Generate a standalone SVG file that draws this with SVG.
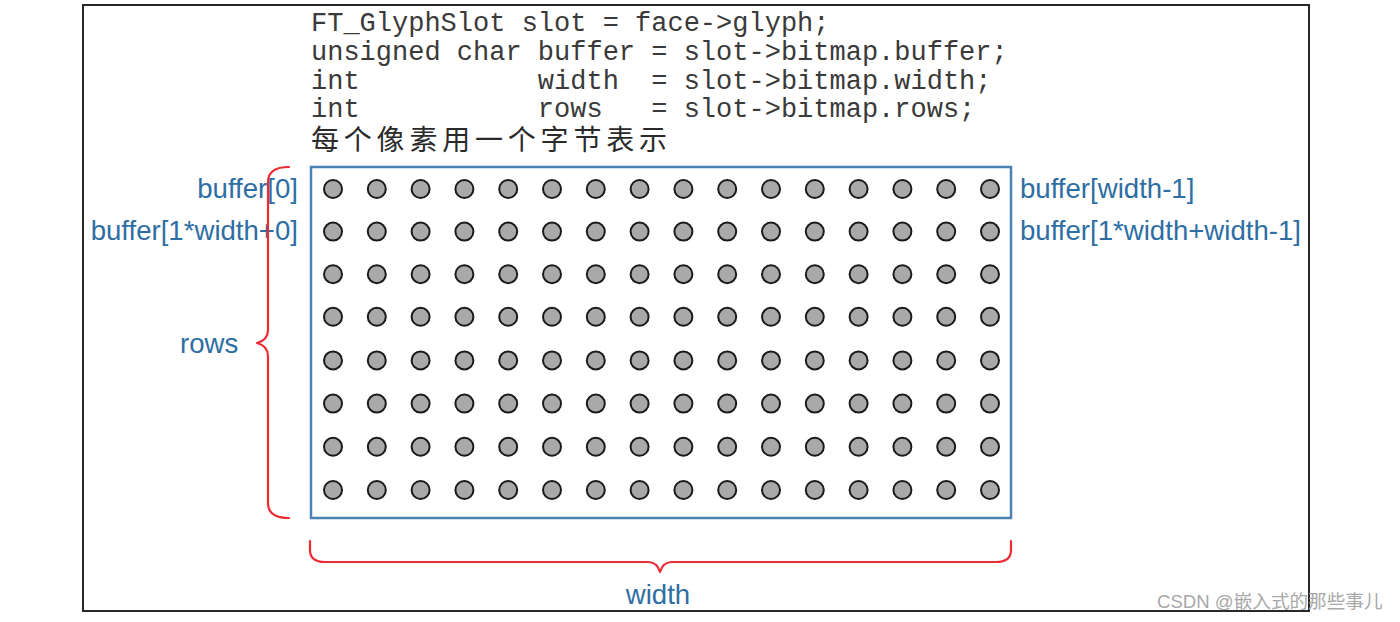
<svg xmlns="http://www.w3.org/2000/svg" width="1400" height="622" viewBox="0 0 1400 622">
<style>
.code{font-family:"Liberation Mono","Courier New",monospace;font-size:27px;fill:#3a3a3a}
.cn{font-family:"Noto Sans CJK SC",sans-serif;font-size:28px;fill:#2a2a2a}
.lbl{font-family:"Liberation Sans",Arial,sans-serif;font-size:27.6px;fill:#2e6ea3}
.dot{fill:#a9a9a9;stroke:#1a1a1a;stroke-width:2}
.brace{fill:none;stroke:#ee2b33;stroke-width:2.2;stroke-linecap:round;stroke-linejoin:round}
.wm{font-family:"Liberation Sans","Noto Sans CJK SC",sans-serif;font-size:18.6px;fill:#a8a8a8}
</style>
<defs>
<circle id="d" r="9" class="dot"/>
<g id="row">
<use href="#d" x="333"/><use href="#d" x="376.8"/><use href="#d" x="420.6"/><use href="#d" x="464.4"/>
<use href="#d" x="508.2"/><use href="#d" x="552"/><use href="#d" x="595.8"/><use href="#d" x="639.6"/>
<use href="#d" x="683.4"/><use href="#d" x="727.2"/><use href="#d" x="771"/><use href="#d" x="814.8"/>
<use href="#d" x="858.6"/><use href="#d" x="902.4"/><use href="#d" x="946.2"/><use href="#d" x="990"/>
</g>
</defs>
<rect width="1400" height="622" fill="#ffffff"/>
<rect x="83" y="5" width="1226" height="606" fill="none" stroke="#111" stroke-width="1.8"/>
<g id="code">
<text class="code" x="311" y="31" xml:space="preserve">FT_GlyphSlot slot = face-&gt;glyph;</text>
<text class="code" x="311" y="60" xml:space="preserve">unsigned char buffer = slot-&gt;bitmap.buffer;</text>
<text class="code" x="311" y="89" xml:space="preserve">int           width  = slot-&gt;bitmap.width;</text>
<text class="code" x="311" y="117" xml:space="preserve">int           rows   = slot-&gt;bitmap.rows;</text>
<text class="cn" x="311" y="150" textLength="356" lengthAdjust="spacing">每个像素用一个字节表示</text>
</g>
<g id="grid">
<rect x="311" y="167" width="700" height="351" fill="none" stroke="#4a82b4" stroke-width="2.5"/>
<use href="#row" y="189"/>
<use href="#row" y="231.6"/>
<use href="#row" y="274.2"/>
<use href="#row" y="316.8"/>
<use href="#row" y="360.4"/>
<use href="#row" y="403.6"/>
<use href="#row" y="446.8"/>
<use href="#row" y="490"/>
</g>
<g id="labels">
<text class="lbl" x="298" y="198" text-anchor="end">buffer[0]</text>
<text class="lbl" x="298" y="240" text-anchor="end">buffer[1*width+0]</text>
<text class="lbl" x="1020" y="198">buffer[width-1]</text>
<text class="lbl" x="1020" y="240">buffer[1*width+width-1]</text>
<text class="lbl" x="180" y="353">rows</text>
<text class="lbl" x="658" y="604" text-anchor="middle">width</text>
</g>
<g id="connectors">
<path class="brace" d="M289,167 Q268,167 268,182 L268,330 Q268,340 257,343 Q268,346 268,356 L268,503 Q268,518 289,518"/>
<path class="brace" d="M310,541 L310,550 Q310,562 325,562 L648,562 Q657,562 660,572 Q663,562 672,562 L996,562 Q1011,562 1011,550 L1011,541"/>
</g>
<text class="wm" x="1157" y="608">CSDN @嵌入式的那些事儿</text>
</svg>
